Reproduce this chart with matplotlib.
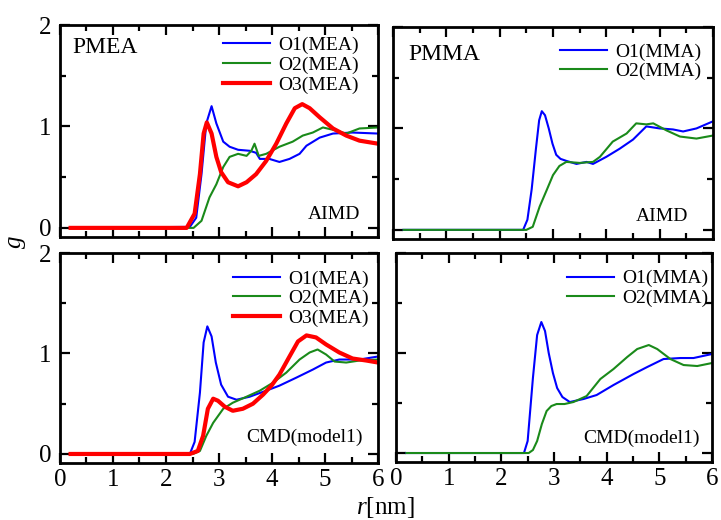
import matplotlib
matplotlib.use("Agg")
import matplotlib.pyplot as plt
from matplotlib.ticker import MultipleLocator

plt.rcParams["font.family"] = "Liberation Serif"
plt.rcParams["mathtext.fontset"] = "custom"
plt.rcParams["mathtext.rm"] = "Liberation Serif"
plt.rcParams["mathtext.it"] = "Liberation Serif:italic"

# ── data: PMEA, AIMD ─────────────────────────────────────────────────────────
r_mea_aimd_o1 = [0.2, 2.45, 2.57, 2.67, 2.76, 2.86, 2.95, 3.08, 3.20, 3.36, 3.58, 3.70,
                 3.77, 3.95, 4.14, 4.33, 4.52, 4.65, 4.90, 5.15, 5.52, 6.0]
g_mea_aimd_o1 = [0.0, 0.01, 0.10, 0.53, 1.03, 1.20, 1.03, 0.85, 0.80, 0.77, 0.76, 0.74,
                 0.68, 0.68, 0.65, 0.68, 0.73, 0.81, 0.89, 0.93, 0.94, 0.93]
r_mea_aimd_o2 = [0.2, 2.52, 2.67, 2.82, 2.95, 3.08, 3.20, 3.36, 3.52, 3.61, 3.67, 3.75,
                 3.89, 4.14, 4.39, 4.58, 4.77, 4.96, 5.21, 5.40, 5.65, 6.0]
g_mea_aimd_o2 = [0.0, 0.0, 0.07, 0.30, 0.43, 0.60, 0.70, 0.73, 0.71, 0.76, 0.83, 0.71,
                 0.73, 0.80, 0.85, 0.91, 0.94, 0.99, 0.96, 0.93, 0.98, 0.99]
r_mea_aimd_o3 = [0.2, 2.39, 2.54, 2.64, 2.71, 2.77, 2.86, 2.95, 3.04, 3.17, 3.36, 3.52,
                 3.70, 3.89, 4.08, 4.27, 4.43, 4.57, 4.71, 4.90, 5.15, 5.40, 5.65, 6.0]
g_mea_aimd_o3 = [0.0, 0.0, 0.14, 0.53, 0.93, 1.04, 0.93, 0.70, 0.55, 0.45, 0.41, 0.45,
                 0.53, 0.66, 0.83, 1.03, 1.18, 1.22, 1.18, 1.09, 0.98, 0.91, 0.86, 0.83]

# ── data: PMMA, AIMD ─────────────────────────────────────────────────────────
r_mma_aimd_o1 = [0.2, 2.44, 2.52, 2.60, 2.68, 2.74, 2.79, 2.85, 2.92, 2.99, 3.06, 3.14,
                 3.25, 3.44, 3.63, 3.75, 4.0, 4.25, 4.5, 4.75, 5.0, 5.25, 5.44, 5.69, 6.0]
g_mma_aimd_o1 = [0.0, 0.0, 0.10, 0.40, 0.80, 1.08, 1.17, 1.13, 1.00, 0.85, 0.74, 0.70,
                 0.68, 0.65, 0.67, 0.65, 0.72, 0.80, 0.89, 1.02, 1.00, 0.99, 0.97, 1.00, 1.07]
r_mma_aimd_o2 = [0.2, 2.5, 2.62, 2.75, 2.88, 3.0, 3.12, 3.25, 3.5, 3.75, 3.88, 4.12,
                 4.38, 4.56, 4.75, 4.88, 5.13, 5.38, 5.69, 6.0]
g_mma_aimd_o2 = [0.0, 0.0, 0.03, 0.23, 0.39, 0.54, 0.63, 0.67, 0.66, 0.67, 0.72, 0.87,
                 0.95, 1.05, 1.04, 1.05, 0.98, 0.92, 0.90, 0.93]

# ── data: PMEA, CMD(model1) ──────────────────────────────────────────────────
r_mea_cmd_o1 = [0.2, 2.45, 2.54, 2.64, 2.71, 2.78, 2.86, 2.94, 3.04, 3.17, 3.33, 3.58,
                3.89, 4.14, 4.46, 4.77, 5.02, 5.27, 5.65, 6.0]
g_mea_cmd_o1 = [0.0, 0.0, 0.12, 0.61, 1.11, 1.27, 1.17, 0.91, 0.69, 0.57, 0.54, 0.57,
                0.63, 0.68, 0.76, 0.84, 0.91, 0.94, 0.94, 0.97]
r_mea_cmd_o2 = [0.2, 2.51, 2.64, 2.76, 2.89, 3.08, 3.26, 3.52, 3.77, 4.02, 4.27, 4.52,
                4.71, 4.86, 5.02, 5.18, 5.40, 5.65, 6.0]
g_mea_cmd_o2 = [0.0, 0.0, 0.03, 0.18, 0.31, 0.45, 0.51, 0.57, 0.63, 0.71, 0.81, 0.94,
                1.01, 1.04, 0.99, 0.92, 0.91, 0.93, 0.94]
r_mea_cmd_o3 = [0.2, 2.45, 2.60, 2.70, 2.79, 2.89, 2.98, 3.11, 3.26, 3.45, 3.64, 3.83,
                3.99, 4.14, 4.33, 4.49, 4.65, 4.83, 5.02, 5.27, 5.52, 5.78, 6.0]
g_mea_cmd_o3 = [0.0, 0.0, 0.03, 0.18, 0.45, 0.55, 0.53, 0.47, 0.43, 0.45, 0.50, 0.59,
                0.68, 0.79, 0.97, 1.12, 1.18, 1.16, 1.09, 1.01, 0.95, 0.93, 0.91]

# ── data: PMMA, CMD(model1) ──────────────────────────────────────────────────
r_mma_cmd_o1 = [0.2, 2.43, 2.50, 2.60, 2.68, 2.76, 2.83, 2.90, 2.98, 3.06, 3.16, 3.30,
                3.56, 3.81, 4.13, 4.51, 4.77, 5.08, 5.40, 5.65, 6.0]
g_mma_cmd_o1 = [0.0, 0.0, 0.12, 0.75, 1.18, 1.31, 1.22, 1.00, 0.80, 0.65, 0.56, 0.51,
                0.54, 0.58, 0.68, 0.79, 0.86, 0.94, 0.95, 0.95, 0.99]
r_mma_cmd_o2 = [0.2, 2.52, 2.60, 2.68, 2.77, 2.86, 2.95, 3.05, 3.20, 3.37, 3.62, 3.88,
                4.13, 4.39, 4.58, 4.80, 4.96, 5.21, 5.46, 5.72, 6.0]
g_mma_cmd_o2 = [0.0, 0.0, 0.03, 0.12, 0.29, 0.42, 0.47, 0.49, 0.49, 0.51, 0.57, 0.74,
                0.84, 0.96, 1.04, 1.08, 1.04, 0.94, 0.88, 0.87, 0.90]

C_BLUE = "#0000ff"
C_GREEN = "#1a8a1a"
C_RED = "#ff0000"

fig = plt.figure(figsize=(7.21, 5.20), dpi=100)

# axes rectangles (fig fractions)
ax_tl = fig.add_axes([0.0832, 0.5442, 0.4411, 0.4077])
ax_tr = fig.add_axes([0.5451, 0.5404, 0.4438, 0.4077])
ax_bl = fig.add_axes([0.0832, 0.1096, 0.4411, 0.4038])
ax_br = fig.add_axes([0.5492, 0.1115, 0.4383, 0.4019])


def style(ax, show_x, show_y):
    ax.set_xlim(0, 6)
    ax.set_ylim(-0.09, 2.0)
    ax.xaxis.set_major_locator(MultipleLocator(1))
    ax.xaxis.set_minor_locator(MultipleLocator(0.5))
    ax.yaxis.set_major_locator(MultipleLocator(1))
    ax.yaxis.set_minor_locator(MultipleLocator(0.5))
    ax.tick_params(which="both", direction="in", top=True, right=True, width=1.6)
    ax.tick_params(which="major", length=7, labelsize=18)
    ax.tick_params(which="minor", length=4)
    ax.tick_params(axis="y", pad=6)
    ax.tick_params(axis="x", pad=4)
    if not show_x:
        ax.tick_params(axis="x", labelbottom=False)
    if not show_y:
        ax.tick_params(axis="y", labelleft=False)
    for s in ax.spines.values():
        s.set_linewidth(2.0)


leg_kw = dict(frameon=False, fontsize=14, handlelength=2.4, handletextpad=0.45,
              labelspacing=0.1, borderpad=0, borderaxespad=0, loc="upper right")

# ── top-left: PMEA AIMD ──
ax = ax_tl
ax.plot(r_mea_aimd_o1, g_mea_aimd_o1, color=C_BLUE, lw=1.5, label="O1(MEA)")
ax.plot(r_mea_aimd_o2, g_mea_aimd_o2, color=C_GREEN, lw=1.5, label="O2(MEA)")
ax.plot(r_mea_aimd_o3, g_mea_aimd_o3, color=C_RED, lw=3, label="O3(MEA)")
style(ax, False, True)
ax.legend(bbox_to_anchor=(0.94, 0.945), **leg_kw)
ax.text(0.038, 0.894, "PMEA", transform=ax.transAxes, fontsize=17, va="center")
ax.text(0.943, 0.108, "AIMD", transform=ax.transAxes, fontsize=14, ha="right", va="center")

# ── top-right: PMMA AIMD ──
ax = ax_tr
ax.plot(r_mma_aimd_o1, g_mma_aimd_o1, color=C_BLUE, lw=1.5, label="O1(MMA)")
ax.plot(r_mma_aimd_o2, g_mma_aimd_o2, color=C_GREEN, lw=1.5, label="O2(MMA)")
style(ax, False, False)
ax.legend(bbox_to_anchor=(0.965, 0.925), **leg_kw)
ax.text(0.047, 0.868, "PMMA", transform=ax.transAxes, fontsize=17, va="center")
ax.text(0.922, 0.104, "AIMD", transform=ax.transAxes, fontsize=14, ha="right", va="center")

# ── bottom-left: PMEA CMD ──
ax = ax_bl
ax.plot(r_mea_cmd_o1, g_mea_cmd_o1, color=C_BLUE, lw=1.5, label="O1(MEA)")
ax.plot(r_mea_cmd_o2, g_mea_cmd_o2, color=C_GREEN, lw=1.5, label="O2(MEA)")
ax.plot(r_mea_cmd_o3, g_mea_cmd_o3, color=C_RED, lw=3, label="O3(MEA)")
style(ax, True, True)
ax.legend(bbox_to_anchor=(0.972, 0.92), **leg_kw)
ax.text(0.953, 0.124, "CMD(model1)", transform=ax.transAxes, fontsize=14, ha="right", va="center")

# ── bottom-right: PMMA CMD ──
ax = ax_br
ax.plot(r_mma_cmd_o1, g_mma_cmd_o1, color=C_BLUE, lw=1.5, label="O1(MMA)")
ax.plot(r_mma_cmd_o2, g_mma_cmd_o2, color=C_GREEN, lw=1.5, label="O2(MMA)")
style(ax, True, False)
ax.legend(bbox_to_anchor=(0.99, 0.92), **leg_kw)
ax.text(0.962, 0.115, "CMD(model1)", transform=ax.transAxes, fontsize=14, ha="right", va="center")

fig.text(0.024, 0.535, "$g$", fontsize=18, rotation=90, ha="center", va="center")
fig.text(0.534, 0.025, "$r$[nm]", fontsize=18, ha="center", va="center")

fig.savefig("out.png", dpi=100)
